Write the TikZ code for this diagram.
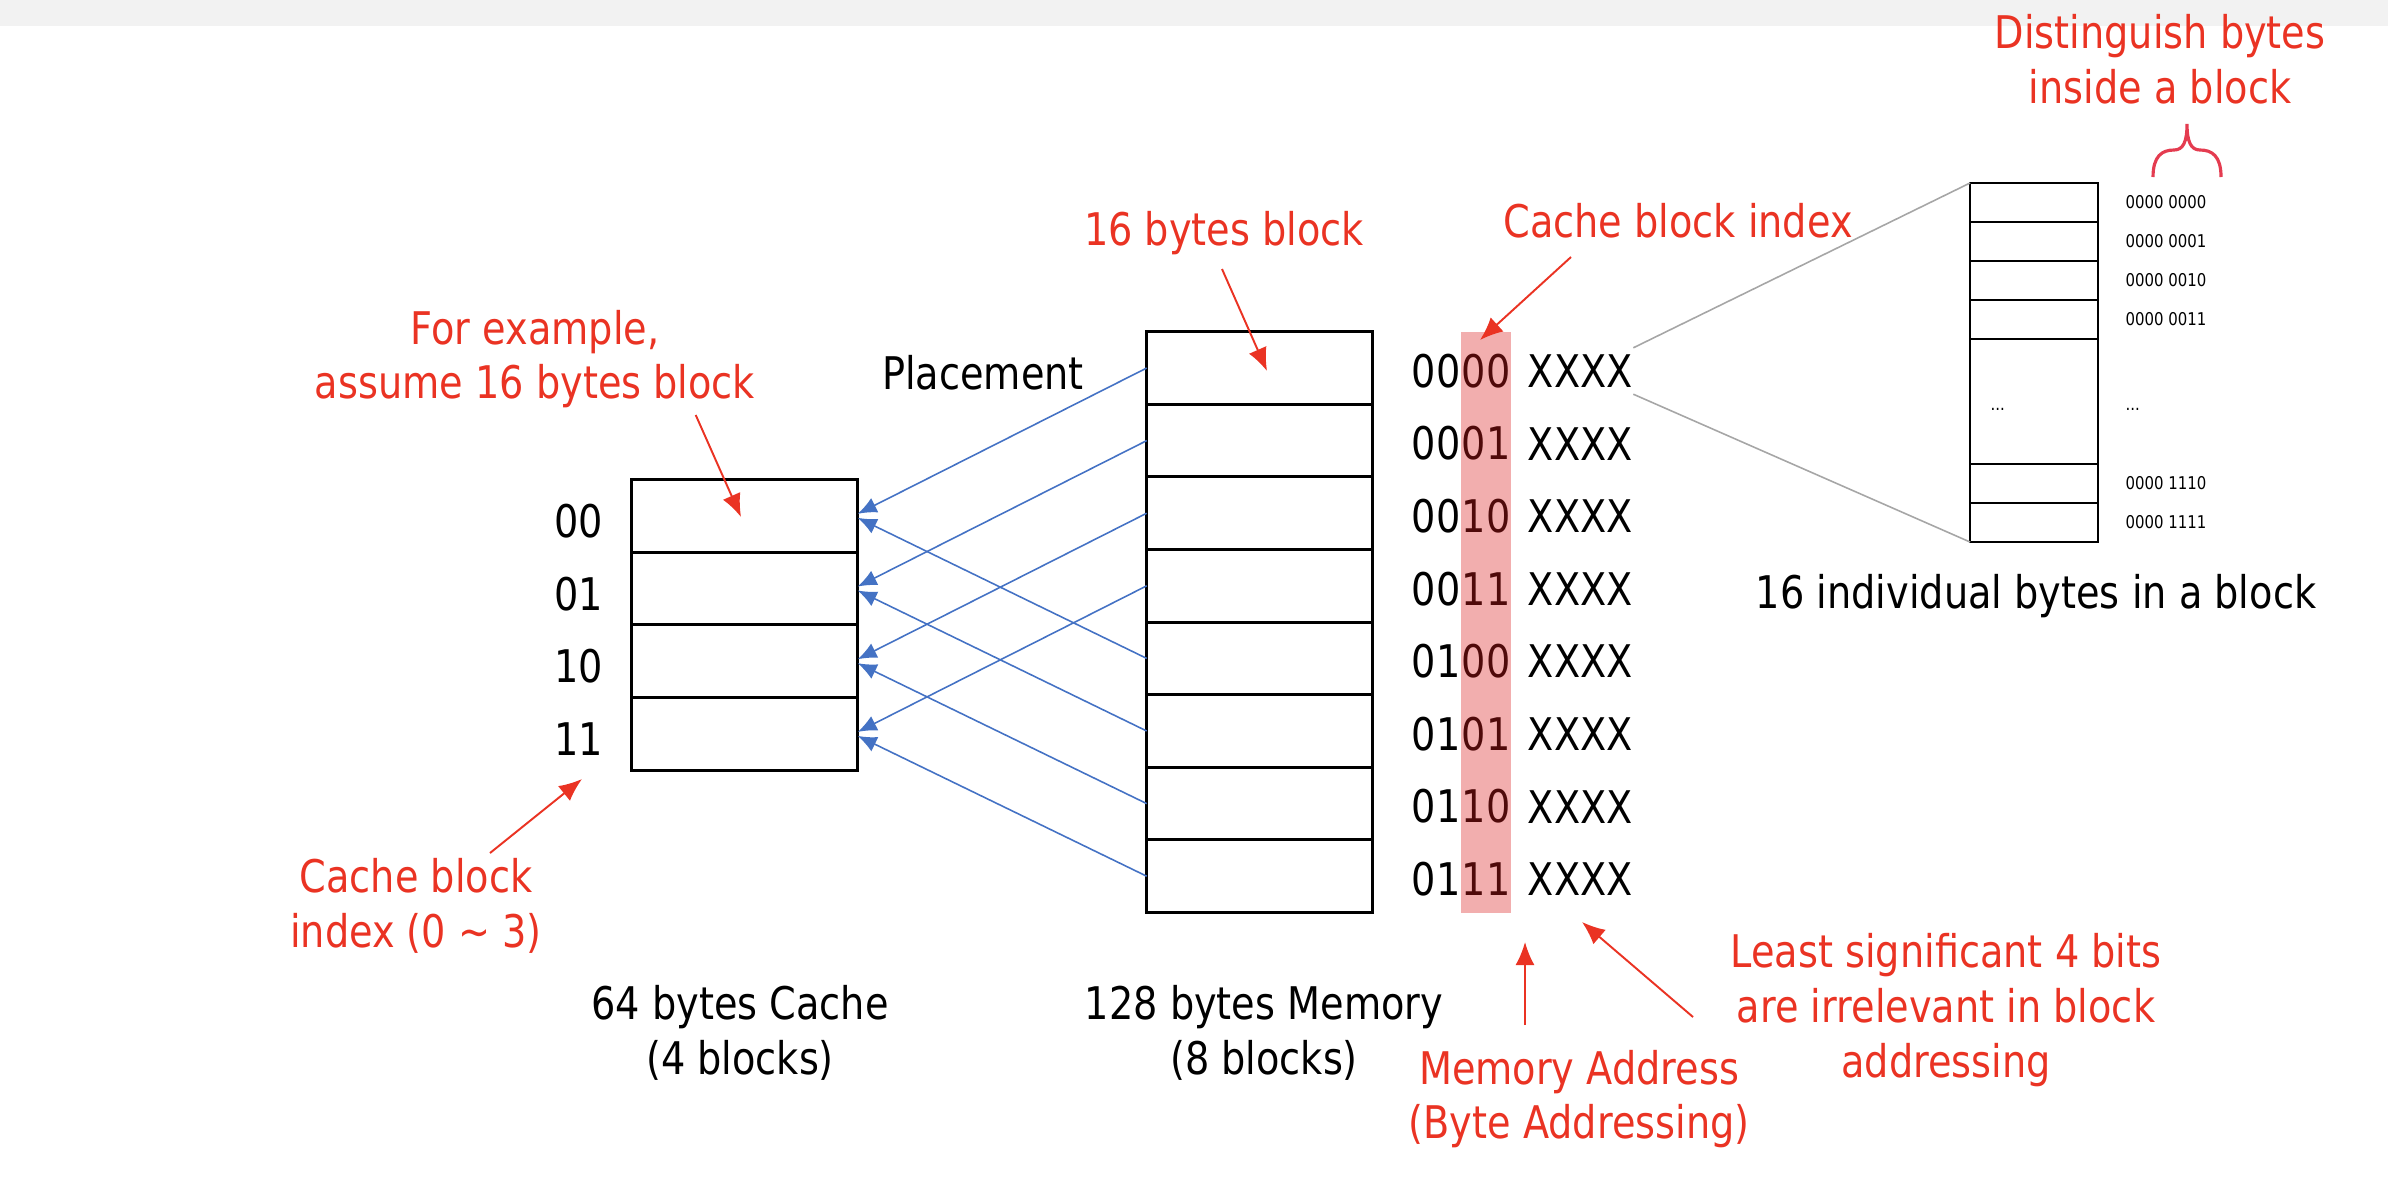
\documentclass[tikz,border=0pt]{standalone}
\usepackage{fontspec}
\setmainfont{DejaVu Sans}[FakeStretch=0.85]
\usetikzlibrary{arrows.meta, positioning}

\begin{document}
\begin{tikzpicture}[
  cell/.style={draw, line width=0.8pt, inner sep=0pt, outer sep=0pt, minimum width=2.26cm, minimum height=0.727cm},
  byte_cell/.style={draw, line width=0.8pt, inner sep=0pt, outer sep=0pt, minimum width=1.28cm, minimum height=0.39cm},
  txt/.style={inner sep=0pt, font=\fontsize{12.8}{15.6}\selectfont},
  note/.style={txt, text=note_color, align=center},
  addr/.style={txt, minimum height=0.45cm},
  small_txt/.style={inner sep=0pt, anchor=west, font=\fontsize{5}{6}\selectfont},
  place_arrow/.style={draw=place_color, line width=0.45pt, -{Latex[length=0.19cm, width=0.16cm]}},
  note_arrow/.style={draw=note_color, line width=0.55pt, -{Latex[length=0.23cm, width=0.19cm]}},
  zoom_line/.style={draw=zoom_color, line width=0.45pt}
]
\definecolor{band_color}{RGB}{242,242,242}
\definecolor{note_color}{RGB}{234,51,35}
\definecolor{brace_color}{RGB}{228,60,80}
\definecolor{place_color}{RGB}{68,114,196}
\definecolor{zoom_color}{RGB}{166,166,166}
\definecolor{shade_color}{RGB}{220,30,30}

\useasboundingbox (0,0) rectangle (23.88,-11.77);
\fill[band_color] (0,0) rectangle (23.88,-0.26);

\node[cell] (c0) at (7.447,-5.158) {};
\node[cell] (c1) at (7.447,-5.885) {};
\node[cell] (c2) at (7.447,-6.612) {};
\node[cell] (c3) at (7.447,-7.339) {};

\node[txt, anchor=east] (i0) at (6.040,-5.210) {00};
\node[txt, anchor=east] (i1) at (6.040,-5.937) {01};
\node[txt, anchor=east] (i2) at (6.040,-6.664) {10};
\node[txt, anchor=east] (i3) at (6.040,-7.391) {11};

\node[cell] (m0) at (12.597,-3.680) {};
\node[cell] (m1) at (12.597,-4.406) {};
\node[cell] (m2) at (12.597,-5.132) {};
\node[cell] (m3) at (12.597,-5.858) {};
\node[cell] (m4) at (12.597,-6.584) {};
\node[cell] (m5) at (12.597,-7.310) {};
\node[cell] (m6) at (12.597,-8.036) {};
\node[cell] (m7) at (12.597,-8.762) {};

\draw[place_arrow] (m0.west) -- (c0.1.5);
\draw[place_arrow] (m1.west) -- (c1.1.5);
\draw[place_arrow] (m2.west) -- (c2.1.5);
\draw[place_arrow] (m3.west) -- (c3.1.5);
\draw[place_arrow] (m4.west) -- (c0.-1.5);
\draw[place_arrow] (m5.west) -- (c1.-1.5);
\draw[place_arrow] (m6.west) -- (c2.-1.5);
\draw[place_arrow] (m7.west) -- (c3.-1.5);

\node[txt] (placement) at (9.830,-3.730) {Placement};

\node[addr, anchor=west] (hi0) at (14.110,-3.710) {00};
\node[addr, right=0pt of hi0] (lo0) {00};
\node[addr, right=0.16cm of lo0] (x0) {XXXX};
\node[addr, anchor=west] (hi1) at (14.110,-4.436) {00};
\node[addr, right=0pt of hi1] (lo1) {01};
\node[addr, right=0.16cm of lo1] (x1) {XXXX};
\node[addr, anchor=west] (hi2) at (14.110,-5.162) {00};
\node[addr, right=0pt of hi2] (lo2) {10};
\node[addr, right=0.16cm of lo2] (x2) {XXXX};
\node[addr, anchor=west] (hi3) at (14.110,-5.888) {00};
\node[addr, right=0pt of hi3] (lo3) {11};
\node[addr, right=0.16cm of lo3] (x3) {XXXX};
\node[addr, anchor=west] (hi4) at (14.110,-6.614) {01};
\node[addr, right=0pt of hi4] (lo4) {00};
\node[addr, right=0.16cm of lo4] (x4) {XXXX};
\node[addr, anchor=west] (hi5) at (14.110,-7.340) {01};
\node[addr, right=0pt of hi5] (lo5) {01};
\node[addr, right=0.16cm of lo5] (x5) {XXXX};
\node[addr, anchor=west] (hi6) at (14.110,-8.066) {01};
\node[addr, right=0pt of hi6] (lo6) {10};
\node[addr, right=0.16cm of lo6] (x6) {XXXX};
\node[addr, anchor=west] (hi7) at (14.110,-8.792) {01};
\node[addr, right=0pt of hi7] (lo7) {11};
\node[addr, right=0.16cm of lo7] (x7) {XXXX};

\fill[shade_color, fill opacity=0.36] (lo0.west |- m0.north) rectangle (lo7.east |- m7.south);

\node[byte_cell] (b0) at (20.340,-2.025) {};
\node[byte_cell] (b1) at (20.340,-2.415) {};
\node[byte_cell] (b2) at (20.340,-2.805) {};
\node[byte_cell] (b3) at (20.340,-3.195) {};
\node[byte_cell, minimum height=1.25cm] (bd) at (20.340,-4.015) {};
\node[byte_cell] (b14) at (20.340,-4.835) {};
\node[byte_cell] (b15) at (20.340,-5.225) {};
\node[small_txt] (bdots) at (19.900,-4.090) {...};

\node[small_txt] (a0) at (21.250,-2.025) {0000 0000};
\node[small_txt] (a1) at (21.250,-2.415) {0000 0001};
\node[small_txt] (a2) at (21.250,-2.805) {0000 0010};
\node[small_txt] (a3) at (21.250,-3.195) {0000 0011};
\node[small_txt] (adots) at (21.250,-4.090) {...};
\node[small_txt] (a14) at (21.250,-4.835) {0000 1110};
\node[small_txt] (a15) at (21.250,-5.225) {0000 1111};

\draw[zoom_line] (x0.north east) -- (b0.north west);
\draw[zoom_line] (x0.south east) -- (b15.south west);

\draw[brace_color, line width=0.9pt] (21.53,-1.77) .. controls (21.53,-1.56) and (21.62,-1.50) .. (21.74,-1.50) .. controls (21.83,-1.50) and (21.87,-1.42) .. (21.87,-1.24) .. controls (21.87,-1.42) and (21.91,-1.50) .. (22.00,-1.50) .. controls (22.12,-1.50) and (22.21,-1.56) .. (22.21,-1.77);

\node[txt] (bytes_label) at (20.360,-5.960) {16 individual bytes in a block};
\node[txt, align=center] (cache_label) at (7.400,-10.330) {64 bytes Cache\\(4 blocks)};
\node[txt, align=center] (mem_label) at (12.640,-10.330) {128 bytes Memory\\(8 blocks)};

\node[note] (n_dist) at (21.600,-0.590) {Distinguish bytes\\inside a block};
\node[note] (n_block) at (12.240,-2.330) {16 bytes block};
\node[note] (n_index) at (16.780,-2.210) {Cache block index};
\node[note] (n_example) at (5.350,-3.590) {For example,\\assume 16 bytes block};
\node[note] (n_range) at (4.160,-9.060) {Cache block\\index (0 \textasciitilde{} 3)};
\node[note] (n_addr) at (15.790,-10.990) {Memory Address\\(Byte Addressing)};
\node[note] (n_lsb) at (19.460,-10.100) {Least significant 4 bits\\are irrelevant in block\\addressing};

\coordinate (ex_from) at (6.957,-4.150);
\coordinate (ex_to) at (7.410,-5.170);
\coordinate (blk_from) at (12.220,-2.690);
\coordinate (blk_to) at (12.670,-3.710);
\coordinate (idx_from) at (15.710,-2.570);
\coordinate (idx_to) at (14.800,-3.400);
\coordinate (rng_from) at (4.900,-8.530);
\coordinate (rng_to) at (5.820,-7.790);
\coordinate (addr_from) at (15.250,-10.250);
\coordinate (addr_to) at (15.250,-9.420);
\coordinate (lsb_from) at (16.930,-10.170);
\coordinate (lsb_to) at (15.820,-9.220);

\draw[note_arrow] (ex_from) -- (ex_to);
\draw[note_arrow] (blk_from) -- (blk_to);
\draw[note_arrow] (idx_from) -- (idx_to);
\draw[note_arrow] (rng_from) -- (rng_to);
\draw[note_arrow] (addr_from) -- (addr_to);
\draw[note_arrow] (lsb_from) -- (lsb_to);

\end{tikzpicture}
\end{document}
